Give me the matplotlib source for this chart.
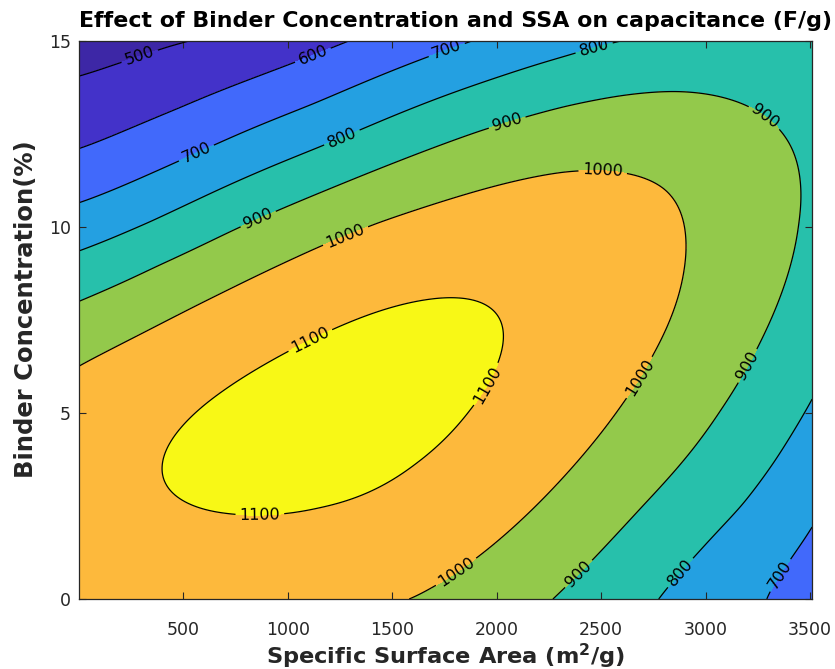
import numpy as np
import matplotlib
matplotlib.use("Agg")
from matplotlib import pyplot as plt

# Points: (SSA m2/g, binder %)
c500 = [(0, 14.1), (164, 14.44), (419, 15.0)]
c600 = [(0, 12.02), (483, 13.15), (976, 14.31), (1286, 15.0)]
c700 = [(0, 10.59), (467, 11.71), (674, 12.25), (1128, 13.28), (1908, 15.0),
        (3238, 0.0), (3370, 0.82), (3493, 1.68)]
c800 = [(0, 9.34), (345, 10.1), (1152, 12.12), (1351, 12.61), (2322, 14.53),
        (2617, 15.0), (3493, 5.13), (3338, 3.69), (3191, 2.44), (2967, 1.18),
        (2768, 0.0)]
c900 = [(0, 8.02), (372, 9.02), (753, 10.01), (1128, 10.86), (1924, 12.63),
        (2322, 13.28), (2588, 13.55), (2856, 13.68), (3286, 13.01),
        (3416, 12.2), (3445, 11.31), (3429, 10.1), (3254, 6.87), (3063, 5.08),
        (2696, 2.53), (2474, 1.09), (2274, 0.0)]
c1000 = [(0, 6.35), (579, 7.95), (1152, 9.52), (1416, 10.15), (2322, 11.53),
         (2826, 11.13), (2887, 10.14), (2895, 9.65), (2887, 8.84), (2744, 6.6),
         (2585, 5.17), (2298, 3.15), (1924, 1.18), (1621, 0.0)]
c1100 = [(419, 3.56), (594, 5.22), (721, 2.35), (873, 2.30), (1152, 2.53),
         (1008, 6.65), (721, 5.72), (1271, 7.37), (1765, 8.13), (1892, 8.08),
         (2020, 7.23), (2004, 6.51), (1860, 5.13), (1605, 3.69), (1128, 2.44)]

levels = [500, 600, 700, 800, 900, 1000, 1100]
traces = [c500, c600, c700, c800, c900, c1000, c1100]

band_colors = ["#3d27a6", "#4332c9", "#4169fb", "#24a0e1",
               "#27c0ab", "#93c94b", "#fdb93c", "#f8f816"]

ssa_max = 3510
binder_max = 15

# where the contour labels sit
label_spots = [(292, 14.57), (1120, 14.62), (1766, 14.68), (563, 11.98),
               (2469, 14.76), (1257, 12.43), (850, 10.32), (2046, 12.88),
               (3290, 13.01), (3194, 6.29), (2397, 0.65), (1271, 9.83),
               (2508, 11.53), (2676, 5.98), (1815, 0.65), (1112, 6.9),
               (1943, 5.8), (866, 2.26), (2891, 0.65), (3354, 0.65)]

ASPECT = 0.76  # plot height / width on screen


def to_unit(s, b):
    return (np.asarray(s, dtype=float) / ssa_max,
            np.asarray(b, dtype=float) / binder_max * ASPECT)


def poly(u, v):
    return np.stack([u ** i * v ** (k - i) for k in range(5)
                     for i in range(k + 1)], axis=-1)


def tps(r):
    return np.where(r > 0, r * r * np.log(np.maximum(r, 1e-12)), 0.0)


pts = np.array([p for t in traces for p in t], dtype=float)
vals = np.array([lv for lv, t in zip(levels, traces) for _ in t], dtype=float)
pu, pv = to_unit(pts[:, 0], pts[:, 1])
n = len(vals)

# smooth quartic trend, weighted by gradient so position errors count
A = poly(pu, pv)
w = np.ones(n)
h = 1e-3
for _ in range(30):
    coef, *_ = np.linalg.lstsq(A * w[:, None], vals * w, rcond=None)
    gu = (poly(pu + h, pv) - poly(pu - h, pv)) @ coef
    gv = (poly(pu, pv + h) - poly(pu, pv - h)) @ coef
    w = 1.0 / np.maximum(np.hypot(gu, gv), 1e-6)

# smoothed thin-plate spline on what the trend leaves over
resid = vals - A @ coef
K = tps(np.hypot(pu[:, None] - pu[None, :], pv[:, None] - pv[None, :]))
P = np.column_stack([np.ones(n), pu, pv])
M = np.zeros((n + 3, n + 3))
M[:n, :n] = K + 0.015 * np.eye(n)
M[:n, n:] = P
M[n:, :n] = P.T
sol = np.linalg.solve(M, np.concatenate([resid, np.zeros(3)]))
wts, aff = sol[:n], sol[n:]

S, B = np.meshgrid(np.linspace(0, ssa_max, 350), np.linspace(0, binder_max, 350))
su, sv = to_unit(S.ravel(), B.ravel())
G = tps(np.hypot(su[:, None] - pu[None, :], sv[:, None] - pv[None, :]))
C = (poly(su, sv) @ coef + G @ wts + aff[0] + aff[1] * su + aff[2] * sv)
C = C.reshape(S.shape)

fig = plt.figure(figsize=(8.35, 6.69), dpi=100)
ax = fig.add_axes([0.0946, 0.1046, 0.878, 0.834])

fill_levels = [min(C.min(), 400) - 1] + levels + [max(C.max(), 1200) + 1]
ax.contourf(S, B, C, levels=fill_levels, colors=band_colors)
cs = ax.contour(S, B, C, levels=levels, colors="k", linewidths=0.9)
ax.clabel(cs, manual=label_spots, fmt="%d", fontsize=11.5, inline=True,
          inline_spacing=4)

ax.set_xlim(0, ssa_max)
ax.set_ylim(0, binder_max)
ax.set_xticks([500, 1000, 1500, 2000, 2500, 3000, 3500])
ax.set_yticks([0, 5, 10, 15])
ax.tick_params(direction="in", top=True, right=True, length=5, width=0.8,
               colors="#262626", labelsize=12.5)
ax.tick_params(axis="x", pad=16)
ax.tick_params(axis="y", pad=6)
for sp in ax.spines.values():
    sp.set_color("#262626")
    sp.set_linewidth(0.9)

ax.set_title("Effect of Binder Concentration and SSA on capacitance (F/g)",
             fontsize=15.9, fontweight="bold", pad=10, x=0.513)
ax.set_xlabel(r"Specific Surface Area (m$^\mathbf{2}$/g)", fontsize=16.2,
              fontweight="bold", color="#262626", labelpad=1.5)
ax.set_ylabel("Binder Concentration(%)", fontsize=17.5, fontweight="bold",
              color="#262626")
ax.yaxis.set_label_coords(-0.056, 0.52)

fig.savefig("out.png", dpi=100)
